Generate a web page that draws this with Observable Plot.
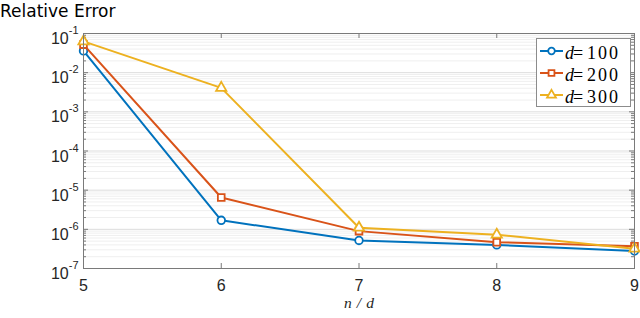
<!DOCTYPE html>
<html><head><meta charset="utf-8">
<script src="https://cdn.jsdelivr.net/npm/d3@7"></script>
<script src="https://cdn.jsdelivr.net/npm/@observablehq/plot@0.6"></script>
<style>body{margin:0;background:#fff}</style>
</head><body><div id="chart"></div>
<script>
// ---- data ----
const nd = [5, 6, 7, 8, 9];
const err100 = [0.036, 1.7e-6, 5.2e-7, 4.0e-7, 2.8e-7];
const err200 = [0.052, 6.5e-6, 9.0e-7, 4.7e-7, 3.7e-7];
const err300 = [0.063, 4.1e-3, 1.1e-6, 7.3e-7, 3.2e-7];
const seriesNames = ["100", "200", "300"];
const seriesColors = ["#0072BD", "#D95319", "#EDB120"];
const seriesSymbols = ["circle", "square", "triangle"];
const yTicks = [1e-1, 1e-2, 1e-3, 1e-4, 1e-5, 1e-6, 1e-7];
const xTicks = [5, 6, 7, 8, 9];
const titleText = "Relative Error";

// ---- layout ----
const W = 640, H = 318, mL = 83, mR = 6, mT = 33, mB = 50;
const pw = W - mL - mR, ph = H - mT - mB;
const series = [err100, err200, err300];
const rows = series.map((vals, i) => vals.map((v, j) => ({x: nd[j], y: v, s: i})));
const minor = d3.scaleLog().domain([1e-7, 1e-1]).ticks()
  .filter(t => !yTicks.some(m => Math.abs(t / m - 1) < 1e-9));
const axisColor = "#7a7a7a";

const plot = Plot.plot({
  width: W, height: H,
  marginLeft: mL, marginRight: mR, marginTop: mT, marginBottom: mB,
  style: {fontFamily: "'Liberation Sans', Arial, sans-serif", fontSize: "16px", background: "white", color: "#262626"},
  x: {domain: [5, 9], label: null},
  y: {type: "log", domain: [1e-7, 1e-1], label: null},
  marks: [
    Plot.ruleY(minor, {stroke: "#efefef", strokeWidth: 1}),
    Plot.ruleY(yTicks, {stroke: "#dddddd", strokeWidth: 1}),
    Plot.tickY(yTicks, {insetRight: pw - 5, stroke: axisColor}),
    Plot.tickY(yTicks, {insetLeft: pw - 5, stroke: axisColor}),
    Plot.tickY(minor, {insetRight: pw - 3, stroke: axisColor}),
    Plot.tickY(minor, {insetLeft: pw - 3, stroke: axisColor}),
    Plot.tickX(xTicks, {insetTop: ph - 5, stroke: axisColor}),
    Plot.tickX(xTicks, {insetBottom: ph - 5, stroke: axisColor}),
    ...rows.flatMap((r, i) => [
      Plot.line(r, {x: "x", y: "y", stroke: seriesColors[i], strokeWidth: 2}),
      Plot.dot(r, {x: "x", y: "y", symbol: seriesSymbols[i], r: 3.8, stroke: seriesColors[i], strokeWidth: 1.8, fill: "white"})
    ]),
    Plot.frame({stroke: axisColor}),
    Plot.axisY(yTicks, {anchor: "left", tickSize: 0, tickPadding: 5, lineAnchor: "bottom", dy: 10.5,
      tickFormat: d => "10^" + Math.round(Math.log10(d)), fontSize: 16, fill: "#262626"}),
    Plot.axisX(xTicks, {anchor: "bottom", tickSize: 0, tickPadding: 0, lineAnchor: "bottom", dy: 22,
      tickFormat: d => String(d), fontSize: 16, fill: "#262626"})
  ]
});
document.getElementById("chart").appendChild(plot);

const svg = d3.select(plot);
// superscripts on y tick labels
svg.selectAll('g[aria-label="y-axis tick label"] text').each(function () {
  const [base, exp] = this.textContent.split("^");
  this.textContent = "";
  const t = d3.select(this);
  t.append("tspan").text(base);
  t.append("tspan").attr("dy", -10).attr("font-size", 11).text(exp);
});

// title
svg.append("text").attr("x", 0).attr("y", 16.5).attr("text-anchor", "start")
  .attr("font-family", "'DejaVu Sans', sans-serif").attr("font-size", 17).attr("fill", "#000")
  .text(titleText);

// x label n/d
svg.append("text").attr("x", mL + pw / 2 + 0.5).attr("y", 307.5).attr("text-anchor", "middle")
  .attr("font-family", "'Liberation Serif', serif").attr("font-style", "italic").attr("font-size", 15.5)
  .attr("fill", "#262626").attr("textLength", 30).attr("lengthAdjust", "spacing").text("n/d");

// legend
const lg = svg.append("g").attr("text-anchor", "start");
lg.append("rect").attr("x", 536.5).attr("y", 38.5).attr("width", 94).attr("height", 68)
  .attr("fill", "white").attr("stroke", "#8c8c8c");
const symMap = {circle: d3.symbolCircle, square: d3.symbolSquare, triangle: d3.symbolTriangle};
seriesNames.forEach((n, i) => {
  const cy = 51 + 22 * i;
  lg.append("line").attr("x1", 540).attr("x2", 563).attr("y1", cy).attr("y2", cy)
    .attr("stroke", seriesColors[i]).attr("stroke-width", 2);
  lg.append("path").attr("transform", `translate(551.5,${cy})`)
    .attr("d", d3.symbol(symMap[seriesSymbols[i]], Math.PI * 3.3 * 3.3)())
    .attr("fill", "white").attr("stroke", seriesColors[i]).attr("stroke-width", 1.8);
  const ty = cy + 8;
  lg.append("text").attr("x", 565).attr("y", ty).attr("font-family", "'Liberation Serif', serif")
    .attr("font-style", "italic").attr("font-size", 18).attr("fill", "#000").text("d");
  lg.append("text").attr("x", 573).attr("y", ty).attr("font-family", "'Liberation Serif', serif")
    .attr("font-size", 18).attr("fill", "#000").text("=");
  lg.append("text").attr("x", 587).attr("y", ty).attr("font-family", "'Liberation Serif', serif")
    .attr("font-size", 18).attr("fill", "#000").attr("textLength", 31).attr("lengthAdjust", "spacing").text(n);
});
</script>
</body></html>
